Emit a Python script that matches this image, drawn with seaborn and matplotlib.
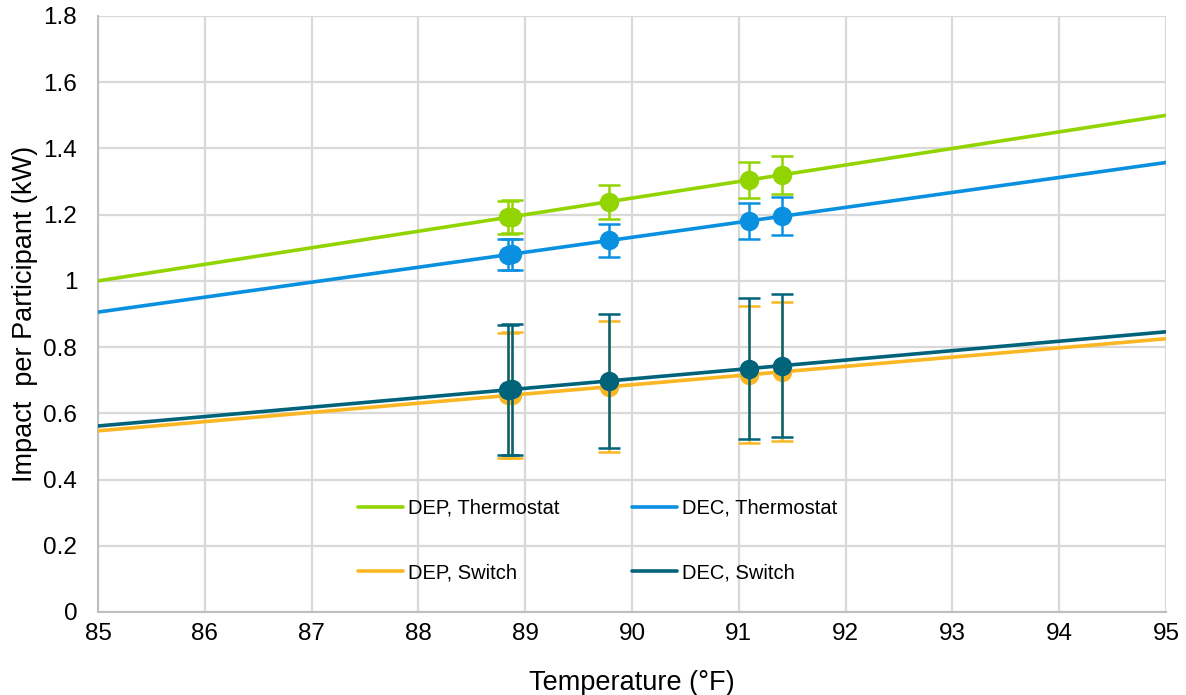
import numpy as np
import pandas as pd
import matplotlib
matplotlib.use("Agg")
import matplotlib.pyplot as plt
from matplotlib.ticker import FuncFormatter
import seaborn as sns

# Event temperatures (°F)
temps = [88.84, 88.88, 89.78, 91.10, 91.40]

# Mean impact per participant (kW) and error-bar half widths, by program / device
dep_thermostat = [1.192, 1.194, 1.239, 1.305, 1.320]
dep_thermostat_err = [0.049, 0.049, 0.052, 0.055, 0.057]
dec_thermostat = [1.079, 1.081, 1.122, 1.181, 1.195]
dec_thermostat_err = [0.047, 0.047, 0.050, 0.055, 0.057]
dep_switch = [0.654, 0.655, 0.680, 0.717, 0.725]
dep_switch_err = [0.190, 0.190, 0.198, 0.208, 0.210]
dec_switch = [0.671, 0.672, 0.698, 0.735, 0.744]
dec_switch_err = [0.197, 0.197, 0.203, 0.214, 0.216]

series_names = ["DEP, Thermostat", "DEC, Thermostat", "DEP, Switch", "DEC, Switch"]
series_values = [dep_thermostat, dec_thermostat, dep_switch, dec_switch]
series_errors = [dep_thermostat_err, dec_thermostat_err, dep_switch_err, dec_switch_err]
series_colors = ["#92D400", "#0A90E0", "#FBB624", "#00637A"]

x_ticks = [85, 86, 87, 88, 89, 90, 91, 92, 93, 94, 95]
y_ticks = [0, 0.2, 0.4, 0.6, 0.8, 1.0, 1.2, 1.4, 1.6, 1.8]

sns.set_theme(style="whitegrid")
plt.rcParams["font.family"] = ["Liberation Sans", "DejaVu Sans"]

fig = plt.figure(figsize=(11.86, 6.95), dpi=100)
ax = fig.add_axes([98 / 1186, 1 - 612 / 695, 1068 / 1186, 596 / 695])
ax.set_xlim(85, 95)
ax.set_ylim(0, 1.8)

frames = []
for name, vals, errs in zip(series_names, series_values, series_errors):
    frames.append(pd.DataFrame({"temp": temps, "impact": vals, "err": errs, "series": name}))
df = pd.concat(frames, ignore_index=True)

# Linear trend lines across the full temperature range
for name, color in zip(series_names, series_colors):
    sub = df[df["series"] == name]
    sns.regplot(data=sub, x="temp", y="impact", ax=ax, scatter=False, ci=None,
                truncate=False, color=color, label=name,
                line_kws={"linewidth": 2.6, "zorder": 3})

# Observed event impacts with error bars
for i, name in enumerate(series_names):
    sub = df[df["series"] == name]
    ax.errorbar(sub["temp"], sub["impact"], yerr=sub["err"], fmt="o",
                color=series_colors[i], markersize=13, elinewidth=1.8,
                capsize=8, capthick=1.8, zorder=4 + i)

ax.set_xticks(x_ticks)
ax.set_yticks(y_ticks)
ax.yaxis.set_major_formatter(FuncFormatter(lambda v, p: f"{v:g}"))
ax.tick_params(axis="both", length=0, labelsize=17.5, colors="#000000")
ax.tick_params(axis="y", pad=15)
ax.tick_params(axis="x", pad=8)

ax.grid(True, color="#D9D9D9", linewidth=1.6)
ax.set_axisbelow(True)
for side in ["top", "right"]:
    ax.spines[side].set_visible(False)
for side in ["left", "bottom"]:
    ax.spines[side].set_color("#BFBFBF")
    ax.spines[side].set_linewidth(1.5)

ax.set_xlabel("Temperature (°F)", fontsize=19.5, labelpad=18, color="#000000")
ax.set_ylabel("Impact  per Participant (kW)", fontsize=19.5, labelpad=4, color="#000000")

# Two rows: thermostats on top, switches below
handles, labels = ax.get_legend_handles_labels()
order = [0, 2, 1, 3]
leg = ax.legend([handles[k] for k in order], [labels[k] for k in order], ncol=2,
                loc="upper left", bbox_to_anchor=(0.243, 0.19), frameon=False,
                fontsize=14.5, handlelength=2.25, handletextpad=0.25,
                columnspacing=3.6, labelspacing=2.25, borderpad=0, borderaxespad=0)
for t in leg.get_texts():
    t.set_color("#000000")

fig.savefig("out.png", dpi=100, facecolor="white")
